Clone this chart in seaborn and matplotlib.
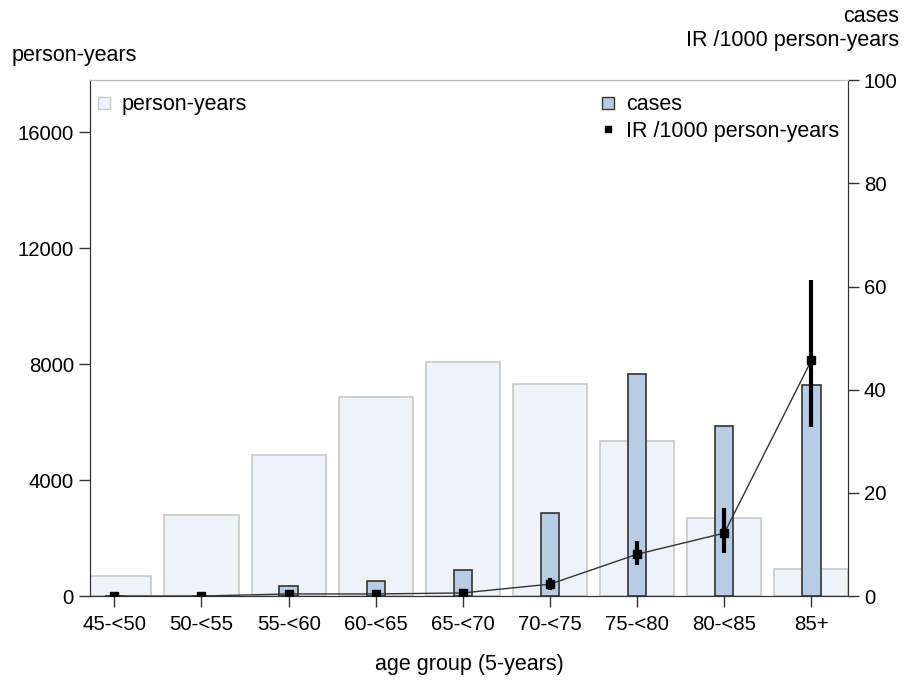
import numpy as np
import pandas as pd
import matplotlib
matplotlib.use("Agg")
import matplotlib.pyplot as plt
from matplotlib.lines import Line2D
import seaborn as sns

# data
age_groups = ["45-<50", "50-<55", "55-<60", "60-<65", "65-<70",
              "70-<75", "75-<80", "80-<85", "85+"]
person_years = [690, 2800, 4860, 6860, 8060, 7300, 5340, 2690, 930]
cases = [0, 0, 2, 3, 5, 16, 43, 33, 41]
ir = [0.0, 0.0, 0.4, 0.4, 0.6, 2.3, 8.1, 12.2, 45.7]
ir_lo = [0.0, 0.0, 0.1, 0.1, 0.3, 1.2, 6.0, 8.3, 32.8]
ir_hi = [0.0, 0.0, 1.1, 1.0, 1.3, 3.5, 10.7, 17.1, 61.2]

df = pd.DataFrame({"age": age_groups, "py": person_years, "cases": cases})

sns.set_style("white")
plt.rcParams["font.family"] = ["Liberation Sans", "DejaVu Sans"]
plt.rcParams["text.color"] = "black"
plt.rcParams["axes.labelcolor"] = "black"
plt.rcParams["xtick.color"] = "black"
plt.rcParams["ytick.color"] = "black"

TICK_FS = 14.7
LAB_FS = 15.5

fig, ax = plt.subplots(figsize=(9.06, 6.8), dpi=100)
fig.subplots_adjust(left=0.0993, right=0.936, top=0.882, bottom=0.1235)

PY_FACE = "#eef3f9"
PY_EDGE = "#c8c8c8"
CASE_FACE = "#b8cce4"
CASE_EDGE = "#333333"

sns.barplot(data=df, x="age", y="py", ax=ax, width=0.85, color=PY_FACE,
            edgecolor=PY_EDGE, linewidth=1.2, saturation=1)
ax.set_ylim(0, 17800)
ax.set_yticks([0, 4000, 8000, 12000, 16000])
ax.set_ylabel("")
ax.set_xlabel("age group (5-years)", labelpad=14, fontsize=LAB_FS)

ax2 = ax.twinx()
sns.barplot(data=df, x="age", y="cases", ax=ax2, width=0.21, color=CASE_FACE,
            edgecolor=CASE_EDGE, linewidth=1.2, saturation=1)
ax2.set_ylim(0, 100)
ax2.set_yticks([0, 20, 40, 60, 80, 100])
ax2.set_ylabel("")

xs = np.arange(len(age_groups))
ir_a = np.array(ir)
yerr = [ir_a - np.array(ir_lo), np.array(ir_hi) - ir_a]
ax2.plot(xs, ir_a, color="#333333", lw=1, zorder=4)
ax2.errorbar(xs, ir_a, yerr=yerr, fmt="s", color="black", ms=6,
             elinewidth=3, capsize=0, zorder=5)

ax.set_xlim(-0.28, 8.42)

for a in (ax, ax2):
    a.spines["top"].set_color("#bbbbbb")
    a.spines["left"].set_color("#333333")
    a.spines["right"].set_color("#333333")
    a.spines["bottom"].set_color("#333333")
    a.tick_params(direction="out", length=8, width=1, color="#333333",
                  labelsize=TICK_FS, labelcolor="black")
ax.tick_params(axis="x", pad=6)
ax.tick_params(axis="y", left=True, right=False)
ax2.tick_params(axis="y", right=True, left=False)
ax.tick_params(axis="x", bottom=True)

fig.text(0.013, 0.919, "person-years", fontsize=LAB_FS, ha="left", va="center")
fig.text(0.992, 0.975, "cases", fontsize=LAB_FS, ha="right", va="center")
fig.text(0.992, 0.94, "IR /1000 person-years", fontsize=LAB_FS, ha="right",
         va="center")

h_py = [Line2D([], [], marker="s", ls="", markerfacecolor=PY_FACE,
               markeredgecolor=PY_EDGE, ms=8)]
ax.legend(h_py, ["person-years"], loc="upper left", frameon=False,
          handlelength=0.8, handletextpad=0.4,
          bbox_to_anchor=(-0.018, 1.01), fontsize=LAB_FS)
h_r = [Line2D([], [], marker="s", ls="", markerfacecolor=CASE_FACE,
              markeredgecolor=CASE_EDGE, ms=8),
       Line2D([], [], marker="s", ls="", color="black", ms=5)]
ax2.legend(h_r, ["cases", "IR /1000 person-years"], loc="upper left",
           bbox_to_anchor=(0.647, 1.01), frameon=False, handlelength=0.8,
           handletextpad=0.4, labelspacing=0.25, fontsize=LAB_FS)

fig.savefig("out.png", dpi=100)
